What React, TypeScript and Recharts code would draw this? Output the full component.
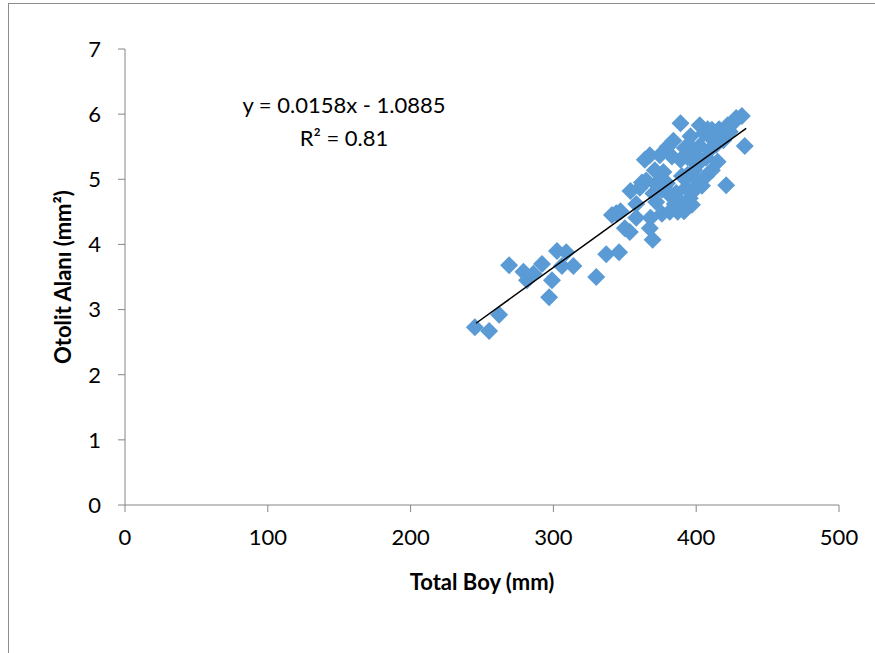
import { Label, Scatter, ScatterChart, XAxis, YAxis } from "recharts";

// Total Boy (mm)
const totalBoy = [
  245, 255, 262, 269, 279, 281.5, 286, 292, 297, 299, 302.5, 306, 309, 314, 330,
  337, 341, 346, 347, 350, 353.5, 354, 358, 360.5, 364, 367.5, 369.5, 367.5, 370,
  372, 374.5, 377, 376, 379.5, 380, 384, 385, 386, 389, 390, 392, 391.5, 394, 396,
  397, 399, 400.5, 402.5, 404, 405.5, 407, 408, 407, 411, 412, 414, 415, 416, 419,
  421, 422, 428, 432, 434, 393, 388, 381.5, 377.5, 372.5, 368, 381.5, 387, 395.5,
  398.5, 394, 398.5, 389, 374.5, 402.5, 411, 423.5, 426.5, 400.5, 344, 362, 358,
  371, 376, 402.5, 409.5, 383, 365,
];

// Otolit Alanı (mm²)
const otolitAlani = [
  2.73, 2.67, 2.92, 3.68, 3.58, 3.45, 3.55, 3.7, 3.19, 3.45, 3.9, 3.67, 3.88, 3.67,
  3.5, 3.85, 4.45, 3.88, 4.51, 4.25, 4.19, 4.82, 4.41, 4.87, 5.3, 5.37, 4.07, 4.25,
  4.78, 4.65, 5.37, 5.11, 4.47, 4.94, 5.5, 5.59, 4.62, 4.79, 5.86, 5.05, 5.48, 4.51,
  5.34, 5.66, 4.61, 4.84, 5.22, 5.51, 4.9, 5.71, 5.33, 5.77, 5.05, 5.14, 5.6, 5.53,
  5.27, 5.77, 5.6, 4.91, 5.83, 5.94, 5.97, 5.51, 4.87, 4.67, 4.76, 4.88, 4.91, 4.41,
  4.5, 4.5, 4.71, 5.14, 5.07, 5.45, 5.3, 4.99, 5.83, 5.76, 5.73, 5.88, 4.98, 4.48,
  4.95, 4.62, 5.14, 4.84, 5.3, 5.45, 5.35, 4.98,
];

// trend line ends
const trendX = [245.8, 435];
const trendY = [2.79, 5.78];

const xTicks = [0, 100, 200, 300, 400, 500];
const yTicks = [0, 1, 2, 3, 4, 5, 6, 7];

const points = totalBoy.map((x, i) => ({ x, y: otolitAlani[i] }));
const trend = trendX.map((x, i) => ({ x, y: trendY[i] }));

const font = "Lato, 'Open Sans', sans-serif";
const axisColor = "#868686";

const Diamond = (props: any) => {
  const { cx, cy } = props;
  const r = 9;
  return (
    <polygon
      points={`${cx},${cy - r} ${cx + r},${cy} ${cx},${cy + r} ${cx - r},${cy}`}
      fill="#5B9BD5"
    />
  );
};

export default function App() {
  return (
    <div
      style={{
        position: "absolute",
        left: 0,
        top: 0,
        width: 875,
        height: 653,
        overflow: "hidden",
        background: "#fff",
        fontFamily: font,
      }}
    >
      <div
        style={{
          position: "absolute",
          left: 8,
          top: 3,
          width: 900,
          height: 700,
          border: "1px solid #8c8c8c",
        }}
      />
      <div style={{ position: "absolute", left: 0, top: 0 }}>
        <ScatterChart
          width={875}
          height={653}
          margin={{ top: 49, right: 36, bottom: 108, left: 65 }}
        >
          <XAxis
            type="number"
            dataKey="x"
            domain={[0, 500]}
            ticks={xTicks}
            allowDataOverflow
            height={40}
            stroke={axisColor}
            tickSize={7}
            tickMargin={17}
            tick={{ fill: "#000", fontSize: 22, fontFamily: font }}
          >
            <Label
              content={({ viewBox }: any) => (
                <text
                  x={viewBox.x + viewBox.width / 2}
                  y={581}
                  textAnchor="middle"
                  dominantBaseline="central"
                  fontFamily={font}
                  fontSize={22}
                  fontWeight="bold"
                  fill="#000"
                >
                  Total Boy (mm)
                </text>
              )}
            />
          </XAxis>
          <YAxis
            type="number"
            dataKey="y"
            domain={[0, 7]}
            ticks={yTicks}
            allowDataOverflow
            width={60}
            stroke={axisColor}
            tickSize={7}
            tickMargin={17}
            tick={{ fill: "#000", fontSize: 22, fontFamily: font }}
          >
            <Label
              content={({ viewBox }: any) => {
                const cx = 62;
                const cy = viewBox.y + viewBox.height / 2;
                return (
                  <text
                    x={cx}
                    y={cy}
                    transform={`rotate(-90 ${cx} ${cy})`}
                    textAnchor="middle"
                    dominantBaseline="central"
                    fontFamily={font}
                    fontSize={22}
                    fontWeight="bold"
                    fill="#000"
                  >
                    Otolit Alanı (mm²)
                  </text>
                );
              }}
            />
          </YAxis>
          <Scatter
            data={points}
            shape={Diamond}
            isAnimationActive={false}
          />
          <Scatter
            data={trend}
            line={{ stroke: "#000", strokeWidth: 1.5 }}
            shape={() => <g />}
            isAnimationActive={false}
          />
        </ScatterChart>
      </div>
      <div
        style={{
          position: "absolute",
          left: 194,
          top: 88,
          width: 300,
          textAlign: "center",
          fontSize: 22,
          lineHeight: "33px",
          color: "#000",
        }}
      >
        <div>y = 0.0158x - 1.0885</div>
        <div>R² = 0.81</div>
      </div>
    </div>
  );
}
